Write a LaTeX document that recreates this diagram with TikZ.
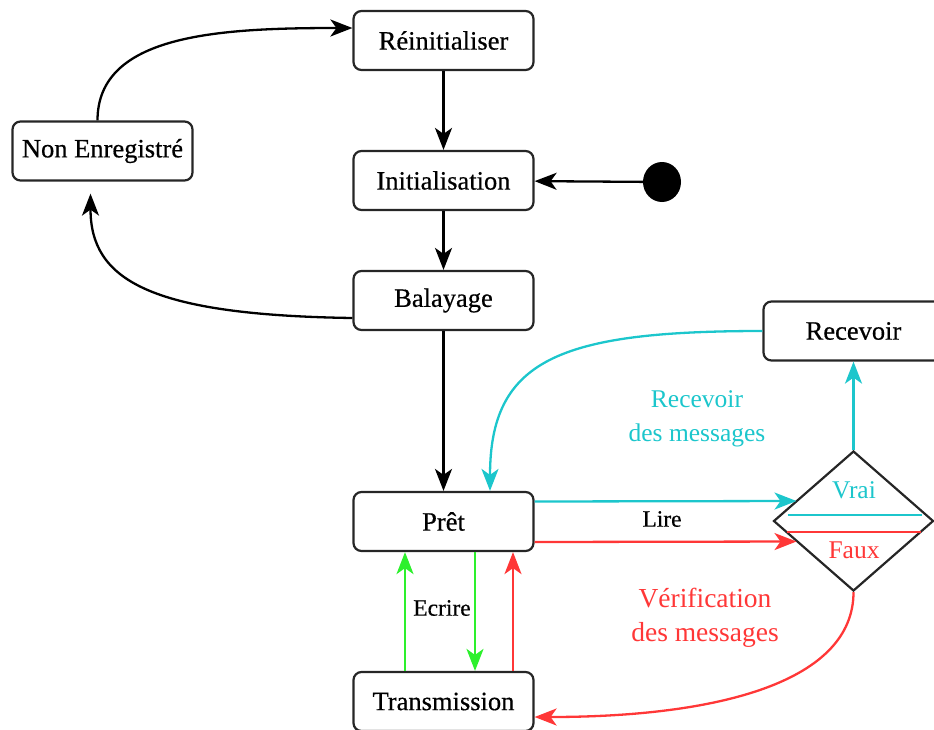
\documentclass[tikz,border=0pt]{standalone}
\usepackage{fontspec}
\setmainfont{Liberation Serif}
% slightly heavier strokes for the diagram labels
\newfontfamily\tnr{Liberation Serif}[BoldFont={Liberation Serif},BoldFeatures={FakeBold=0.5}]
\usetikzlibrary{arrows.meta,shapes.geometric}
\definecolor{rcyan}{RGB}{28,198,204}
\definecolor{rgreen}{RGB}{45,240,45}
\definecolor{rred}{RGB}{255,55,55}
\tikzset{
  state/.style={draw=black!85, line width=2.2pt, rounded corners=8pt, fill=white,
    minimum width=180pt, minimum height=59pt, inner sep=0pt,
    font=\tnr\bfseries\fontsize{26.5}{30}\selectfont},
  conn/.style={line width=2.3pt, -{Stealth[length=22pt,width=17pt,inset=6pt]}},
  lbl/.style={font=\tnr\bfseries\fontsize{23.5}{28}\selectfont},
  clbl/.style={font=\tnr\fontsize{25.5}{34}\selectfont, align=center},
}
\begin{document}
\begin{tikzpicture}[x=1pt,y=-1pt]
\useasboundingbox (0,0) rectangle (934,729);

% states
\node[state] (reinit) at (443.5,40.5) {Réinitialiser};
\node[state] (init)   at (443.5,180.5) {Initialisation};
\node[state] (bal)    at (443.5,300.5) {Balayage};
\node[state] (nonenr) at (102.5,151) {Non Enregistré};
\node[state] (pret)   at (443.5,521.5) {Prêt};
\node[state] (trans)  at (443.5,701.5) {Transmission};
\node[state] (recv)   at (853.5,331) {Recevoir};

% initial pseudo-state
\node[ellipse, fill=black, minimum width=38pt, minimum height=40pt, inner sep=0pt] (start) at (662,182) {};

% decision diamond
\node[diamond, draw=black!85, line width=2.2pt, fill=white, minimum width=160pt,
      minimum height=140pt, inner sep=0pt] (dec) at (853.5,521) {};
\draw[rcyan, line width=2.6pt] ([xshift=-66pt,yshift=6pt]dec.center) -- ([xshift=68pt,yshift=6pt]dec.center);
\draw[rred, line width=2.6pt] ([xshift=-67pt,yshift=-11pt]dec.center) -- ([xshift=67pt,yshift=-11pt]dec.center);
\node[clbl, text=rcyan] (vrai) at (854,490) {Vrai};
\node[clbl, text=rred] (faux) at (854,550) {Faux};

% black connectors
\draw[conn] (reinit) -- (init);
\draw[conn] (init) -- (bal);
\draw[conn] (bal) -- (pret);
\draw[conn] (start) -- (init);
\draw[conn] ([xshift=-5pt]nonenr.north) .. controls +(0,-86) and +(-134,0) .. (reinit.west |- 0,28);
\draw[conn] ([yshift=-17.5pt]bal.west) .. controls +(-204,-3) and +(0,86) .. ([xshift=-12pt,yshift=-12pt]nonenr.south);

% cyan connectors
\draw[conn, rcyan] (recv.west) .. controls +(-204,0) and +(0,-131) .. ([xshift=46.5pt]pret.north);
\draw[conn, rcyan] (dec.north) -- (recv.south);
\draw[conn, rcyan] ([yshift=20pt]pret.east) -- ([xshift=-57pt,yshift=20pt]dec.center);

% red connectors
\draw[conn, rred] ([yshift=-20.5pt]pret.east) -- ([xshift=-57pt,yshift=-20.5pt]dec.center);
\draw[conn, rred] (dec.south) .. controls +(0,89) and +(186,0) .. ([yshift=-15.5pt]trans.east);
\draw[conn, rred] ([xshift=69.5pt]trans.north) -- ([xshift=69.5pt]pret.south);

% green connectors
\draw[conn, rgreen] ([xshift=-38.5pt]trans.north) -- ([xshift=-38.5pt]pret.south);
\draw[conn, rgreen] ([xshift=31.5pt]pret.south) -- ([xshift=31.5pt]trans.north);

% labels
\node[lbl] (lire) at (662,519) {Lire};
\node[lbl] (ecrire) at (442,608) {Ecrire};
\node[clbl, text=rcyan] (recmsg) at (697,419) {Recevoir\\des messages};
\node[clbl, text=rred, font=\tnr\fontsize{27.5}{34}\selectfont] (verif) at (705,618) {Vérification\\des messages};
\end{tikzpicture}
\end{document}
